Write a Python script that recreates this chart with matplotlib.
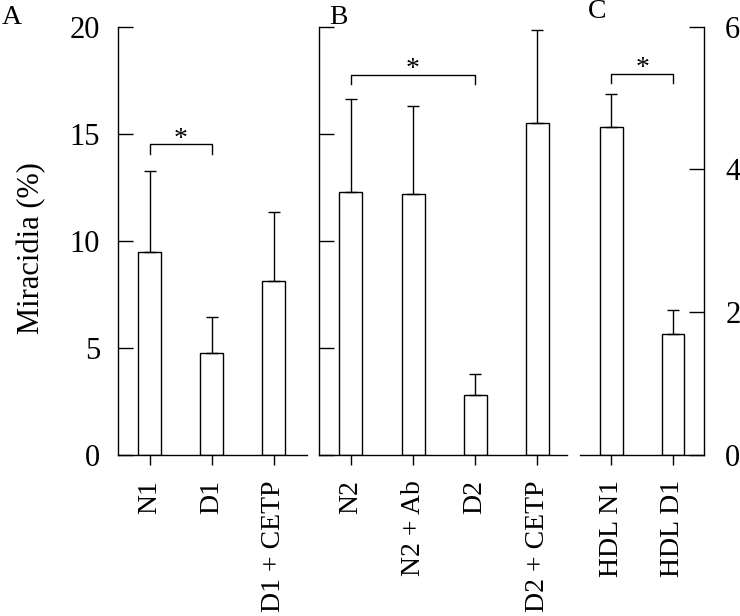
import numpy as np
import matplotlib.pyplot as plt

plt.rcParams['font.family'] = ['Liberation Serif', 'DejaVu Serif']

# Panel A
a_labels = ['N1', 'D1', 'D1 + CETP']
a_means = [9.47, 4.75, 8.1]
a_err = [3.8, 1.68, 3.26]
a_bracket = (0, 1, 14.5)

# Panel B
b_labels = ['N2', 'N2 + Ab', 'D2', 'D2 + CETP']
b_means = [12.26, 12.18, 2.8, 15.5]
b_err = [4.36, 4.13, 0.99, 4.35]
b_bracket = (0, 2, 17.75)

# Panel C (right axis, 0-6)
c_labels = ['HDL N1', 'HDL D1']
c_means = [4.59, 1.7]
c_err = [0.46, 0.33]
c_bracket = (0, 1, 5.34)

LW = 1.0
FS = 20      # category labels
TFS = 22     # y tick labels


def draw_panel(ax, labels, means, errs, bracket, ymax, xmax):
    x = np.arange(len(labels))
    ax.bar(x, means, width=0.37, color='white', edgecolor='black', linewidth=LW,
           yerr=[np.zeros(len(errs)), errs],
           error_kw=dict(ecolor='black', elinewidth=LW, capsize=4.5, capthick=LW))
    ax.set_xlim(-0.51, xmax)
    ax.set_ylim(0, ymax)
    ax.set_xticks(x)
    ax.set_xticklabels(labels, rotation=90, fontsize=FS)
    ax.tick_params(axis='x', direction='out', length=7, width=LW, pad=11)
    for s in ax.spines.values():
        s.set_linewidth(LW)
    ax.spines['top'].set_visible(False)

    # significance bracket
    i, j, yb = bracket
    drop = 0.022 * ymax
    ax.plot([i, i, j, j], [yb - drop, yb, yb, yb - drop], color='black', lw=LW)
    ax.text((i + j) / 2, yb - 0.003 * ymax, '*', ha='center', va='baseline', fontsize=FS)


fig = plt.figure(figsize=(7.4, 6.16), dpi=100)
bottom = 161 / 616
height = 428.5 / 616
ax_a = fig.add_axes([118 / 740, bottom, 189 / 740, height])
ax_b = fig.add_axes([319.3 / 740, bottom, 247.7 / 740, height])
ax_c = fig.add_axes([580 / 740, bottom, 124.3 / 740, height])

draw_panel(ax_a, a_labels, a_means, a_err, a_bracket, 20, 2.54)
draw_panel(ax_b, b_labels, b_means, b_err, b_bracket, 20, 3.48)
draw_panel(ax_c, c_labels, c_means, c_err, c_bracket, 6, 1.51)

for ax in (ax_a, ax_b):
    ax.spines['right'].set_visible(False)
    ax.set_yticks([0, 5, 10, 15, 20])
    ax.tick_params(axis='y', direction='in', length=11, width=LW, pad=13, labelsize=TFS)
ax_b.set_yticklabels([])

ax_c.spines['left'].set_visible(False)
ax_c.yaxis.tick_right()
ax_c.set_yticks([0, 2, 4, 6])
ax_c.tick_params(axis='y', direction='in', length=11, width=LW, pad=15, labelsize=TFS)

fig.text(32 / 740, 1 - 248 / 616, 'Miracidia (%)', rotation=90, ha='center', va='center', fontsize=22)
fig.text(2 / 740, 1 - 18 / 616, 'A', ha='left', va='center', fontsize=20)
fig.text(329 / 740, 1 - 18 / 616, 'B', ha='left', va='center', fontsize=20)
fig.text(588 / 740, 1 - 11 / 616, 'C', ha='left', va='center', fontsize=20)

fig.savefig('out.png', dpi=100)
